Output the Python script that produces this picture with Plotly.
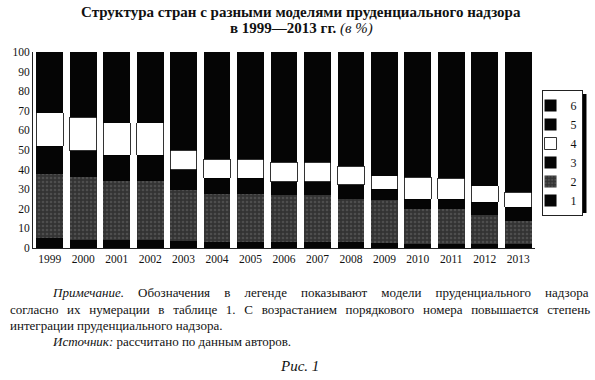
import plotly.graph_objects as go

years = ["1999","2000","2001","2002","2003","2004","2005","2006","2007","2008","2009","2010","2011","2012","2013"]
# cumulative tops
s1 = [5, 4, 4, 4, 3.4, 3, 3, 3, 3, 3, 2.5, 2, 2, 2, 2]
top2 = [38, 36.4, 34.2, 34.2, 29.6, 27.6, 27.6, 26.8, 26.8, 25, 24.6, 20, 20, 17, 13.9]
top3 = [52, 49.6, 47.3, 47.3, 39.8, 35.6, 35.6, 33.9, 33.9, 32.2, 30, 25, 25, 23.4, 20.7]
top4 = [69, 66.6, 64, 64, 50, 45.2, 45.2, 43.7, 43.7, 41.8, 36.9, 36, 35.6, 31.7, 28.5]
s5 = [8, 8, 8, 8, 7, 7, 7, 7, 7, 7, 6, 6, 6, 6, 6]

s2 = [round(b - a, 1) for a, b in zip(s1, top2)]
s3 = [round(b - a, 1) for a, b in zip(top2, top3)]
s4 = [round(b - a, 1) for a, b in zip(top3, top4)]
s6 = [round(100 - t - f, 1) for t, f in zip(top4, s5)]

series = [("1", s1), ("2", s2), ("3", s3), ("4", s4), ("5", s5), ("6", s6)]

SERIF = "Liberation Serif"
W, H = 595, 380
L, R, T, B = 28, 60, 52, 132
PW, PH = W - L - R, H - T - B

def px(x):
    return (x - L) / PW

def py(y):
    return (H - B - y) / PH

fig = go.Figure()
for name, vals in series:
    if name == "4":
        marker = dict(color="white", line=dict(color="black", width=0.8))
    elif name == "2":
        marker = dict(color="#3a3a3a", line=dict(width=0),
                      pattern=dict(shape=".", fgcolor="#6a6a6a", bgcolor="#333333", size=4, solidity=0.35))
    else:
        marker = dict(color="#050505", line=dict(width=0))
    fig.add_trace(go.Bar(x=years, y=vals, name=name, marker=marker, width=0.8))

fig.update_layout(
    width=W, height=H, barmode="stack",
    margin=dict(l=L, r=R, t=T, b=B, pad=0),
    paper_bgcolor="white", plot_bgcolor="white",
    font=dict(family=SERIF, size=11, color="#111"),
    showlegend=True,
    legend=dict(traceorder="reversed", x=px(583), y=py(90), xanchor="right", yanchor="top",
                bgcolor="white", bordercolor="#222", borderwidth=1,
                font=dict(family=SERIF, size=12, color="#111"),
                itemwidth=30, tracegroupgap=0, indentation=-12),
    xaxis=dict(showline=True, linecolor="#222", linewidth=1, ticks="", showgrid=False,
               tickfont=dict(family=SERIF, size=11.5), range=[-0.5, 14.5]),
    yaxis=dict(range=[0, 100], dtick=10, showline=True, linecolor="#222", linewidth=1,
               ticks="", showgrid=False,
               tickfont=dict(family=SERIF, size=11.5)),
)

# legend shadow
fig.add_shape(type="rect", xref="paper", yref="paper", x0=px(552), x1=px(587), y0=py(213), y1=py(94),
              fillcolor="black", line=dict(width=0), layer="above")

S1 = "\u2002\u2005\u2005\u200a"
S2 = "\u2004\u2005\u200a"
line1 = S1.join("Обозначения в легенде показывают модели пруденциального надзора".split(" "))
line2 = S2.join("согласно их нумерации в таблице 1. С возрастанием порядкового номера повышается степень".split(" "))

ann = []
ann.append(dict(text="<b>Структура стран с разными моделями пруденциального надзора</b>",
                x=px(299), y=py(12), font=dict(size=15)))
ann.append(dict(text="<b>в 1999—2013 гг.</b> <i>(в %)</i>", x=px(299), y=py(28), font=dict(size=15)))
ann.append(dict(text="<i>Примечание.</i>" + S1 + line1,
                x=px(45), y=py(292), xanchor="left", font=dict(size=13)))
ann.append(dict(text=line2, x=px(3), y=py(309), xanchor="left", font=dict(size=13)))
ann.append(dict(text="интеграции пруденциального надзора.", x=px(3), y=py(325), xanchor="left", font=dict(size=13)))
ann.append(dict(text="<i>Источник:</i> рассчитано по данным авторов.", x=px(45), y=py(341), xanchor="left",
                font=dict(size=13)))
ann.append(dict(text="<i>Рис. 1</i>", x=px(297), y=py(366), font=dict(size=15)))
for a in ann:
    a.setdefault("xanchor", "center")
    a.update(xref="paper", yref="paper", yanchor="middle", showarrow=False)
    a["font"] = dict(family=SERIF, color="#111", **a["font"])
    fig.add_annotation(**a)

fig.write_html("out.html", config={"displayModeBar": False},
               post_script="document.body.style.margin='0';document.body.style.padding='0';")
